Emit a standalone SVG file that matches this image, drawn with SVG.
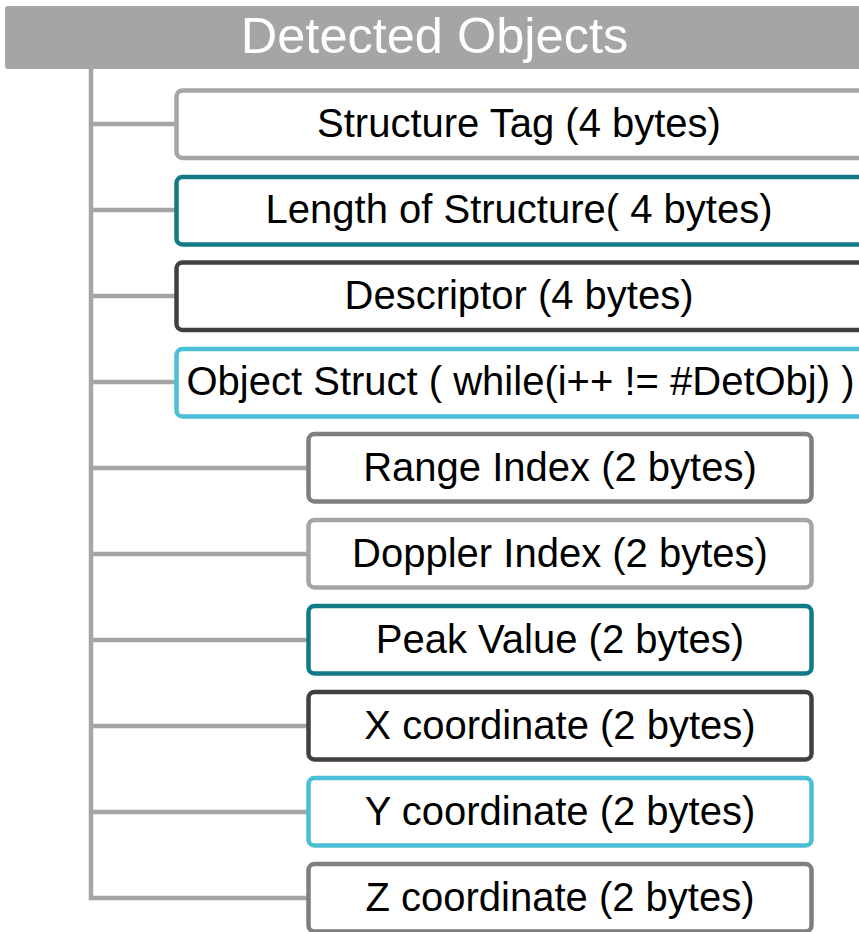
<svg xmlns="http://www.w3.org/2000/svg" width="859" height="932" viewBox="0 0 859 932">
<style>
.box{fill:#ffffff;stroke-width:4.5}
.lbl{font-family:"Liberation Sans",Arial,sans-serif;font-size:40px;fill:#000000;text-anchor:middle}
.conn{fill:none;stroke:#a5a5a5;stroke-width:4.5}
.c1{stroke:#a5a5a5}.c2{stroke:#127a87}.c3{stroke:#404040}.c4{stroke:#4bbfd6}.c5{stroke:#7f7f7f}
</style>
<rect width="859" height="932" fill="#ffffff"/>
<g id="header">
<rect x="5" y="6" width="870" height="63" rx="3" fill="#a5a5a5"/>
<text x="434.5" y="53" font-family="Liberation Sans,Arial,sans-serif" font-size="50.5" fill="#ffffff" text-anchor="middle">Detected Objects</text>
</g>
<g id="connectors">
<path class="conn" d="M91 69 V898 H309"/>
<path class="conn" d="M91 124 H177 M91 210 H177 M91 296 H177 M91 382 H177 M91 468 H309 M91 554 H309 M91 640 H309 M91 726 H309 M91 812 H309"/>
</g>
<g id="structure-tag"><rect class="box c1" x="176.5" y="90.5" width="700" height="67.5" rx="6"/><text class="lbl" x="519" y="137">Structure Tag (4 bytes)</text></g>
<g id="length"><rect class="box c2" x="176.5" y="177" width="700" height="67.5" rx="6"/><text class="lbl" x="519" y="223">Length of Structure( 4 bytes)</text></g>
<g id="descriptor"><rect class="box c3" x="176.5" y="262.5" width="700" height="67.5" rx="6"/><text class="lbl" x="519" y="309">Descriptor (4 bytes)</text></g>
<g id="object-struct"><rect class="box c4" x="176.5" y="349" width="700" height="67.5" rx="6"/><text class="lbl" x="520.5" y="395">Object Struct ( while(i++ != #DetObj) )</text></g>
<g id="range-index"><rect class="box c5" x="308.5" y="434" width="503" height="67.5" rx="6"/><text class="lbl" x="560" y="481">Range Index (2 bytes)</text></g>
<g id="doppler-index"><rect class="box c1" x="308.5" y="520" width="503" height="67.5" rx="6"/><text class="lbl" x="560" y="567">Doppler Index (2 bytes)</text></g>
<g id="peak-value"><rect class="box c2" x="308.5" y="606" width="503" height="67.5" rx="6"/><text class="lbl" x="560" y="653">Peak Value (2 bytes)</text></g>
<g id="x-coordinate"><rect class="box c3" x="308.5" y="692" width="503" height="67.5" rx="6"/><text class="lbl" x="560" y="739">X coordinate (2 bytes)</text></g>
<g id="y-coordinate"><rect class="box c4" x="308.5" y="778" width="503" height="67.5" rx="6"/><text class="lbl" x="560" y="825">Y coordinate (2 bytes)</text></g>
<g id="z-coordinate"><rect class="box c5" x="308.5" y="864" width="503" height="67.5" rx="6"/><text class="lbl" x="560" y="911">Z coordinate (2 bytes)</text></g>
</svg>
